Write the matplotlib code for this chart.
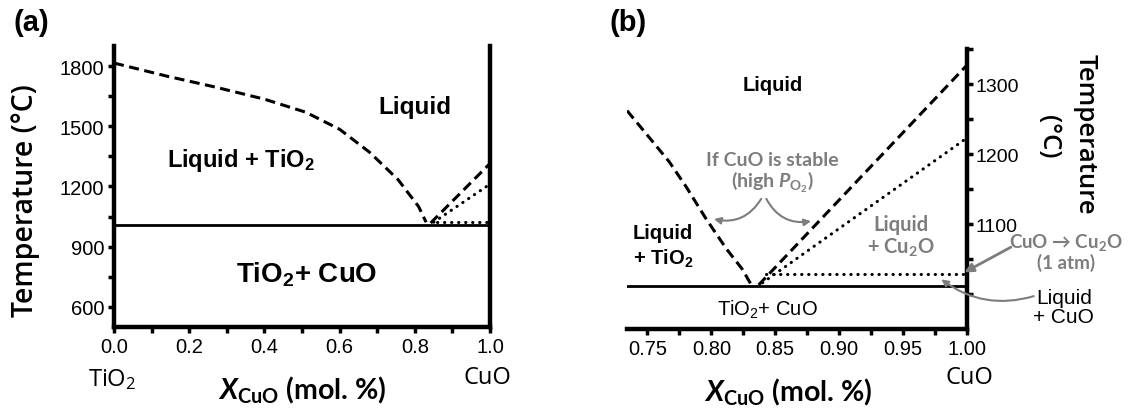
import matplotlib
matplotlib.use("Agg")
import matplotlib.pyplot as plt
from matplotlib.ticker import MultipleLocator, FixedLocator, FixedFormatter

plt.rcParams['font.family'] = ['Liberation Sans', 'DejaVu Sans']
plt.rcParams['mathtext.fontset'] = 'custom'
plt.rcParams['mathtext.default'] = 'regular'
plt.rcParams['mathtext.it'] = 'Lato:italic:bold'
plt.rcParams['mathtext.rm'] = 'Lato:bold'

# ---- panel (a): full TiO2-CuO diagram ----
a_liq_tio2_x = [0.0, 0.14, 0.27, 0.40, 0.51, 0.60, 0.68, 0.755, 0.81, 0.83]
a_liq_tio2_T = [1815, 1750, 1695, 1635, 1570, 1485, 1370, 1235, 1100, 1022]
a_liq_cuo_x = [0.842, 1.0]
a_liq_cuo_T = [1018, 1315]
a_liq_cu2o_x = [0.85, 1.0]
a_liq_cu2o_T = [1022, 1212]
a_decomp_x = [0.86, 1.0]
a_decomp_T = [1022, 1022]
a_eut_x = [0.0, 1.0]
a_eut_T = [1010, 1010]
a_xticks = [0.0, 0.2, 0.4, 0.6, 0.8, 1.0]
a_yticks = [600, 900, 1200, 1500, 1800]

# ---- panel (b): CuO-rich zoom ----
b_liq_tio2_x = [0.734, 0.744, 0.767, 0.780, 0.796, 0.812, 0.824, 0.831]
b_liq_tio2_T = [1262, 1240, 1189, 1154, 1107, 1064, 1036, 1014]
b_liq_cuo_x = [0.837, 1.0]
b_liq_cuo_T = [1013, 1327]
b_liq_cu2o_x = [0.84, 1.0]
b_liq_cu2o_T = [1016, 1223]
b_decomp_x = [0.843, 1.0]
b_decomp_T = [1029, 1029]
b_eut_x = [0.734, 1.0]
b_eut_T = [1011, 1011]
b_xticks = [0.75, 0.80, 0.85, 0.90, 0.95, 1.00]
b_xlabels = ['0.75', '0.80', '0.85', '0.90', '0.95', '1.00']
b_yticks = [1000, 1050, 1100, 1150, 1200, 1250, 1300, 1350]
b_ylabels = ['', '', '1100', '', '1200', '', '1300', '']

GRAY = '#7d7d7d'
LBL = ['Lato', 'DejaVu Sans']
OPS = ['Open Sans', 'DejaVu Sans']
dash = (0, (3.3, 1.8))
dot = (0, (0.1, 2.2))

fig = plt.figure(figsize=(11.32, 4.10), dpi=100)
ax_a = fig.add_axes([0.1007, 0.2, 0.3322, 0.6854])
ax_b = fig.add_axes([0.5539, 0.195, 0.3003, 0.683])

# panel a
ax_a.plot(a_liq_tio2_x, a_liq_tio2_T, color='k', lw=2.2, ls=dash)
ax_a.plot(a_liq_cuo_x, a_liq_cuo_T, color='k', lw=2.2, ls=dash)
ax_a.plot(a_liq_cu2o_x, a_liq_cu2o_T, color='k', lw=2.2, ls=dot, dash_capstyle='round')
ax_a.plot(a_decomp_x, a_decomp_T, color='k', lw=2.2, ls=dot, dash_capstyle='round')
ax_a.plot(a_eut_x, a_eut_T, color='k', lw=2.0)

ax_a.set_xlim(0, 1.0)
ax_a.set_ylim(500, 1900)
ax_a.xaxis.set_major_locator(FixedLocator(a_xticks))
ax_a.xaxis.set_minor_locator(MultipleLocator(0.1))
ax_a.yaxis.set_major_locator(FixedLocator(a_yticks))
ax_a.yaxis.set_minor_locator(MultipleLocator(150))
ax_a.spines['top'].set_visible(False)
for s in ['left', 'bottom', 'right']:
    ax_a.spines[s].set_linewidth(3.2)
ax_a.tick_params(which='both', direction='out', length=4, width=2.5, labelsize=14.5, pad=3)
ax_a.tick_params(axis='y', which='both', right=False)

ax_a.text(0.80, 1597, 'Liquid', ha='center', va='center', fontsize=17.5, fontweight='bold')
ax_a.text(0.338, 1335, 'Liquid + TiO$_2$', ha='center', va='center', fontsize=17, fontweight='bold')
ax_a.text(0.512, 765, 'TiO$_2$+ CuO', ha='center', va='center', fontsize=20, fontweight='bold')
ax_a.annotate('TiO$_2$', xy=(0.0, 0), xycoords=('data', 'axes fraction'), xytext=(-2, -52),
              textcoords='offset pixels', ha='center', va='center', fontsize=17, family=OPS)
ax_a.annotate('CuO', xy=(1.0, 0), xycoords=('data', 'axes fraction'), xytext=(-3, -50),
              textcoords='offset pixels', ha='center', va='center', fontsize=17, family=OPS)
ax_a.text(0.50, -0.222, r'$\mathit{X}_{CuO}$ (mol. %)', transform=ax_a.transAxes,
          ha='center', va='center', fontsize=20.5, family=LBL, fontweight='bold')
ax_a.text(-0.235, 0.452, 'Temperature (°C)', transform=ax_a.transAxes, rotation=90,
          ha='center', va='center', fontsize=20.5, family=OPS, fontweight='semibold')

# panel b
ax_b.plot(b_liq_tio2_x, b_liq_tio2_T, color='k', lw=2.2, ls=dash)
ax_b.plot(b_liq_cuo_x, b_liq_cuo_T, color='k', lw=2.2, ls=dash)
ax_b.plot(b_liq_cu2o_x, b_liq_cu2o_T, color='k', lw=2.2, ls=dot, dash_capstyle='round')
ax_b.plot(b_decomp_x, b_decomp_T, color='k', lw=2.2, ls=dot, dash_capstyle='round')
ax_b.plot(b_eut_x, b_eut_T, color='k', lw=2.0)

ax_b.set_xlim(0.734, 1.0)
ax_b.set_ylim(950, 1350)
ax_b.xaxis.set_major_locator(FixedLocator(b_xticks))
ax_b.xaxis.set_major_formatter(FixedFormatter(b_xlabels))
ax_b.xaxis.set_minor_locator(MultipleLocator(0.025))
ax_b.yaxis.tick_right()
ax_b.yaxis.set_major_locator(FixedLocator(b_yticks))
ax_b.yaxis.set_major_formatter(FixedFormatter(b_ylabels))
ax_b.spines['top'].set_visible(False)
ax_b.spines['left'].set_visible(False)
for s in ['bottom', 'right']:
    ax_b.spines[s].set_linewidth(3.2)
ax_b.tick_params(which='both', direction='out', length=4, width=2.5, labelsize=14.5, pad=3)
ax_b.tick_params(axis='y', labelsize=14, pad=2)

ax_b.text(0.848, 1299, 'Liquid', ha='center', va='center', fontsize=14.5, fontweight='bold')
ax_b.text(0.7383, 1069, 'Liquid\n+ TiO$_2$', ha='left', va='center', fontsize=14.5,
          fontweight='bold', linespacing=1.25)
ax_b.text(0.8437, 979, 'TiO$_2$+ CuO', ha='center', va='center', fontsize=14.5)
ax_b.text(0.848, 1174, 'If CuO is stable\n(high $\\mathit{P}_{O_2}$)', ha='center', va='center',
          fontsize=14, color=GRAY, family=LBL, fontweight='bold', linespacing=1.05)
ax_b.annotate('', xy=(0.802, 1107), xytext=(0.839, 1136),
              arrowprops=dict(arrowstyle='-|>', color=GRAY, lw=1.5, mutation_scale=10,
                              shrinkA=0, shrinkB=0, connectionstyle='arc3,rad=-0.35'))
ax_b.annotate('', xy=(0.878, 1104), xytext=(0.843, 1136),
              arrowprops=dict(arrowstyle='-|>', color=GRAY, lw=1.5, mutation_scale=10,
                              shrinkA=0, shrinkB=0, connectionstyle='arc3,rad=0.35'))
ax_b.text(0.9484, 1083, 'Liquid\n+ Cu$_2$O', ha='center', va='center', fontsize=14.5,
          color=GRAY, family=LBL, fontweight='bold', linespacing=1.05)
ax_b.text(1.0773, 1061, 'CuO → Cu$_2$O\n(1 atm)', ha='center', va='center', fontsize=13.5,
          color=GRAY, family=LBL, fontweight='bold', linespacing=1.05)
ax_b.annotate('', xy=(0.998, 1031), xytext=(1.0344, 1067),
              arrowprops=dict(arrowstyle='-|>', color=GRAY, lw=2.0, mutation_scale=13,
                              shrinkA=0, shrinkB=0))
ax_b.text(1.0758, 981, 'Liquid\n+ CuO', ha='center', va='center', fontsize=15, linespacing=1.0)
ax_b.annotate('', xy=(0.980, 1021), xytext=(1.0523, 997),
              arrowprops=dict(arrowstyle='-|>', color=GRAY, lw=1.5, mutation_scale=10,
                              shrinkA=0, shrinkB=0, connectionstyle='arc3,rad=-0.25'))
ax_b.annotate('CuO', xy=(1.0, 0), xycoords=('data', 'axes fraction'), xytext=(2, -48),
              textcoords='offset pixels', ha='center', va='center', fontsize=17, family=OPS)
ax_b.text(0.473, -0.222, r'$\mathit{X}_{CuO}$ (mol. %)', transform=ax_b.transAxes,
          ha='center', va='center', fontsize=20.5, family=LBL, fontweight='bold')
ax_b.text(1.347, 0.70, 'Temperature', transform=ax_b.transAxes, rotation=270,
          ha='center', va='center', fontsize=18.5, family=OPS, fontweight='semibold')
ax_b.text(1.24, 0.689, '(°C)', transform=ax_b.transAxes, rotation=270,
          ha='center', va='center', fontsize=18.5, family=OPS, fontweight='semibold')

fig.text(0.028, 0.945, '(a)', ha='center', va='center', fontsize=21, fontweight='bold')
fig.text(0.555, 0.945, '(b)', ha='center', va='center', fontsize=21, fontweight='bold')

fig.savefig('out.png', dpi=100)
